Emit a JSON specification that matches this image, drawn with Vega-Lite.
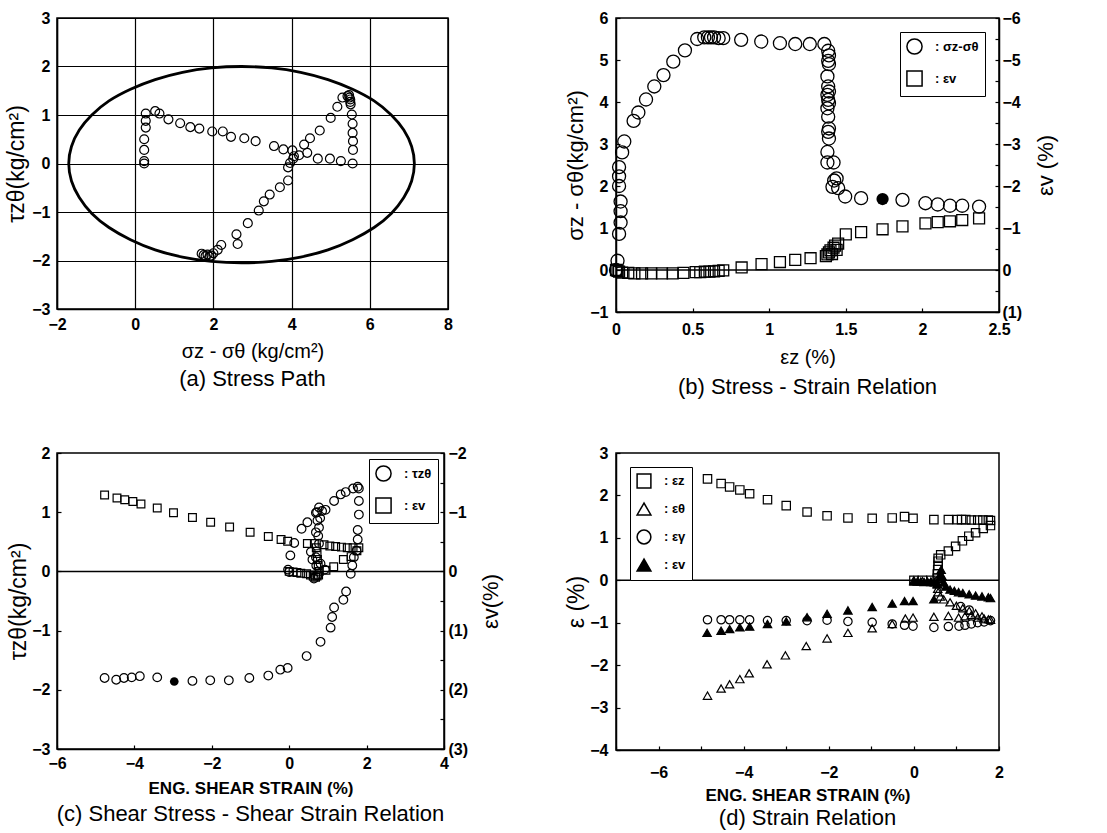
{
  "$schema": "https://vega.github.io/schema/vega-lite/v6.json",
  "background": "white",
  "padding": {"left": 5, "top": 9, "right": 5, "bottom": 5},
  "config": {
    "font": "Liberation Sans",
    "view": {"stroke": "black", "strokeWidth": 1.5},
    "axis": {
      "labelFont": "Liberation Sans", "labelFontWeight": "bold", "labelFontSize": 16, "labelColor": "black",
      "titleFont": "Liberation Sans", "titleFontWeight": "normal", "titleFontSize": 23, "titleColor": "black",
      "domainColor": "black", "domainWidth": 1.5, "tickColor": "black", "tickWidth": 1.2,
      "grid": false, "labelFlush": false, "labelOverlap": false, "labelBound": false
    },
    "title": {"font": "Liberation Sans", "fontSize": 22, "fontWeight": "normal", "color": "black", "orient": "bottom", "anchor": "middle"},
    "legend": {
      "strokeColor": "black", "fillColor": "white", "padding": 6, "title": null,
      "labelFont": "Liberation Sans", "labelFontSize": 13, "labelFontWeight": "bold", "labelColor": "black",
      "labelOffset": 12, "rowPadding": 9, "symbolStrokeColor": "black", "symbolStrokeWidth": 1.5, "symbolSize": 230
    }
  },
  "datasets": {
    "a_ellipse": [
      {"i":0,"x":7.14,"y":0},{"i":1,"x":7.07,"y":0.35},{"i":2,"x":6.87,"y":0.69},{"i":3,"x":6.55,"y":1.0},
      {"i":4,"x":6.11,"y":1.29},{"i":5,"x":5.56,"y":1.53},{"i":6,"x":4.93,"y":1.73},{"i":7,"x":4.23,"y":1.88},
      {"i":8,"x":3.49,"y":1.97},{"i":9,"x":2.72,"y":2.0},{"i":10,"x":1.95,"y":1.97},{"i":11,"x":1.21,"y":1.88},
      {"i":12,"x":0.51,"y":1.73},{"i":13,"x":-0.12,"y":1.53},{"i":14,"x":-0.67,"y":1.29},{"i":15,"x":-1.11,"y":1.0},
      {"i":16,"x":-1.43,"y":0.69},{"i":17,"x":-1.63,"y":0.35},{"i":18,"x":-1.7,"y":0},{"i":19,"x":-1.63,"y":-0.36},
      {"i":20,"x":-1.43,"y":-0.7},{"i":21,"x":-1.11,"y":-1.03},{"i":22,"x":-0.67,"y":-1.32},{"i":23,"x":-0.12,"y":-1.57},
      {"i":24,"x":0.51,"y":-1.78},{"i":25,"x":1.21,"y":-1.93},{"i":26,"x":1.95,"y":-2.02},{"i":27,"x":2.72,"y":-2.05},
      {"i":28,"x":3.49,"y":-2.02},{"i":29,"x":4.23,"y":-1.93},{"i":30,"x":4.93,"y":-1.78},{"i":31,"x":5.56,"y":-1.57},
      {"i":32,"x":6.11,"y":-1.32},{"i":33,"x":6.55,"y":-1.03},{"i":34,"x":6.87,"y":-0.7},{"i":35,"x":7.07,"y":-0.36}
    ],
    "a_pts": [
      {"x":0.23,"y":0.0},{"x":0.23,"y":0.05},{"x":0.23,"y":0.28},{"x":0.23,"y":0.5},{"x":0.27,"y":0.74},{"x":0.27,"y":0.88},
      {"x":0.27,"y":1.03},{"x":0.51,"y":1.08},{"x":0.62,"y":1.03},{"x":0.85,"y":0.91},{"x":1.15,"y":0.83},{"x":1.41,"y":0.75},
      {"x":1.64,"y":0.72},{"x":1.97,"y":0.66},{"x":2.24,"y":0.66},{"x":2.45,"y":0.55},{"x":2.79,"y":0.52},{"x":3.08,"y":0.46},
      {"x":3.55,"y":0.36},{"x":3.79,"y":0.29},{"x":4.02,"y":0.27},{"x":4.06,"y":0.15},{"x":4.19,"y":0.17},{"x":4.4,"y":0.22},
      {"x":4.67,"y":0.1},{"x":4.98,"y":0.1},{"x":5.26,"y":0.05},{"x":5.56,"y":0.0},{"x":5.57,"y":0.28},{"x":5.57,"y":0.46},
      {"x":5.56,"y":0.63},{"x":5.56,"y":0.82},{"x":5.54,"y":1.01},{"x":5.51,"y":1.22},{"x":5.5,"y":1.32},{"x":5.47,"y":1.41},
      {"x":5.5,"y":1.27},{"x":5.48,"y":1.36},
      {"x":1.7,"y":-1.86},{"x":1.75,"y":-1.89},{"x":1.8,"y":-1.91},{"x":1.85,"y":-1.88},{"x":1.9,"y":-1.92},{"x":1.95,"y":-1.9},
      {"x":2.0,"y":-1.85},{"x":2.11,"y":-1.78},{"x":2.2,"y":-1.68},{"x":2.59,"y":-1.46},{"x":2.62,"y":-1.66},{"x":2.88,"y":-1.23},
      {"x":3.16,"y":-0.97},{"x":3.29,"y":-0.78},{"x":3.44,"y":-0.64},{"x":3.7,"y":-0.49},{"x":3.91,"y":-0.35},{"x":3.91,"y":-0.08},
      {"x":3.96,"y":0.01},{"x":4.04,"y":0.1},{"x":4.32,"y":0.39},{"x":4.47,"y":0.52},{"x":4.72,"y":0.68},{"x":5.0,"y":0.94},
      {"x":5.17,"y":1.17},{"x":5.3,"y":1.36},{"x":5.43,"y":1.39}
    ],
    "b_sig": [
      {"ex":0.0,"q":0.0},{"ex":0.01,"q":0.22},{"ex":0.02,"q":0.86},{"ex":0.03,"q":1.13},{"ex":0.03,"q":1.4},{"ex":0.03,"q":1.63},
      {"ex":0.02,"q":2.0},{"ex":0.02,"q":2.23},{"ex":0.02,"q":2.45},{"ex":0.04,"q":2.8},{"ex":0.054,"q":3.06},{"ex":0.115,"q":3.55},
      {"ex":0.146,"q":3.75},{"ex":0.196,"q":4.06},{"ex":0.25,"q":4.37},{"ex":0.31,"q":4.64},{"ex":0.374,"q":4.96},{"ex":0.45,"q":5.23},
      {"ex":0.53,"q":5.5},{"ex":0.576,"q":5.54},{"ex":0.6,"q":5.54},{"ex":0.62,"q":5.54},{"ex":0.64,"q":5.54},{"ex":0.67,"q":5.52},
      {"ex":0.7,"q":5.52},{"ex":0.817,"q":5.48},{"ex":0.948,"q":5.44},{"ex":1.07,"q":5.4},{"ex":1.17,"q":5.38},{"ex":1.265,"q":5.38},
      {"ex":1.36,"q":5.38},{"ex":1.385,"q":5.22},{"ex":1.39,"q":5.11},{"ex":1.385,"q":4.98},{"ex":1.39,"q":4.9},{"ex":1.38,"q":4.61},
      {"ex":1.385,"q":4.37},{"ex":1.39,"q":4.25},{"ex":1.38,"q":4.17},{"ex":1.385,"q":4.05},{"ex":1.39,"q":3.97},{"ex":1.38,"q":3.85},
      {"ex":1.385,"q":3.65},{"ex":1.39,"q":3.37},{"ex":1.385,"q":3.29},{"ex":1.39,"q":3.13},{"ex":1.38,"q":2.81},{"ex":1.38,"q":2.56},
      {"ex":1.42,"q":2.56},{"ex":1.424,"q":2.13},{"ex":1.44,"q":2.18},{"ex":1.413,"q":1.98},{"ex":1.45,"q":1.95},{"ex":1.496,"q":1.75},
      {"ex":1.6,"q":1.71},{"ex":1.87,"q":1.67},{"ex":2.02,"q":1.59},{"ex":2.1,"q":1.56},{"ex":2.18,"q":1.53},{"ex":2.26,"q":1.53},
      {"ex":2.37,"q":1.51}
    ],
    "b_mark": [{"ex":1.74,"q":1.69}],
    "b_ev": [
      {"ex":0.0,"ev":0.0},{"ex":0.01,"ev":0.02},{"ex":0.02,"ev":0.04},{"ex":0.04,"ev":0.06},{"ex":0.08,"ev":0.07},{"ex":0.12,"ev":0.08},
      {"ex":0.17,"ev":0.08},{"ex":0.23,"ev":0.08},{"ex":0.3,"ev":0.08},{"ex":0.37,"ev":0.08},{"ex":0.44,"ev":0.07},{"ex":0.52,"ev":0.05},
      {"ex":0.55,"ev":0.05},{"ex":0.58,"ev":0.04},{"ex":0.61,"ev":0.04},{"ex":0.64,"ev":0.03},{"ex":0.67,"ev":0.02},{"ex":0.7,"ev":0.01},
      {"ex":0.82,"ev":-0.06},{"ex":0.95,"ev":-0.14},{"ex":1.07,"ev":-0.19},{"ex":1.17,"ev":-0.24},{"ex":1.27,"ev":-0.28},{"ex":1.37,"ev":-0.33},
      {"ex":1.38,"ev":-0.37},{"ex":1.39,"ev":-0.42},{"ex":1.4,"ev":-0.47},{"ex":1.41,"ev":-0.38},{"ex":1.42,"ev":-0.53},{"ex":1.43,"ev":-0.58},
      {"ex":1.44,"ev":-0.48},{"ex":1.45,"ev":-0.63},{"ex":1.5,"ev":-0.85},{"ex":1.6,"ev":-0.9},{"ex":1.74,"ev":-0.97},{"ex":1.87,"ev":-1.04},
      {"ex":2.02,"ev":-1.11},{"ex":2.1,"ev":-1.14},{"ex":2.18,"ev":-1.16},{"ex":2.26,"ev":-1.19},{"ex":2.37,"ev":-1.23}
    ],
    "c_tau": [
      {"g":-4.77,"t":-1.8},{"g":-4.47,"t":-1.83},{"g":-4.27,"t":-1.8},{"g":-4.07,"t":-1.79},{"g":-3.86,"t":-1.77},{"g":-3.41,"t":-1.79},
      {"g":-2.5,"t":-1.85},{"g":-2.04,"t":-1.84},{"g":-1.56,"t":-1.84},{"g":-1.03,"t":-1.8},{"g":-0.54,"t":-1.76},{"g":-0.23,"t":-1.66},
      {"g":-0.04,"t":-1.63},{"g":0.45,"t":-1.43},{"g":0.81,"t":-1.19},{"g":1.07,"t":-0.95},{"g":1.11,"t":-0.77},{"g":1.16,"t":-0.61},
      {"g":1.4,"t":-0.48},{"g":1.47,"t":-0.34},{"g":1.59,"t":-0.04},{"g":1.63,"t":0.1},{"g":1.67,"t":0.24},{"g":1.74,"t":0.35},
      {"g":1.77,"t":0.54},{"g":1.77,"t":0.7},{"g":1.8,"t":0.96},{"g":1.8,"t":1.19},{"g":1.77,"t":1.43},{"g":1.8,"t":1.4},
      {"g":1.65,"t":1.4},{"g":1.46,"t":1.34},{"g":1.33,"t":1.3},{"g":1.16,"t":1.19},{"g":0.94,"t":1.04},{"g":0.77,"t":1.08},
      {"g":0.69,"t":0.99},{"g":0.73,"t":0.86},{"g":0.77,"t":0.74},{"g":0.69,"t":0.66},{"g":0.47,"t":0.83},{"g":0.32,"t":0.72},
      {"g":0.13,"t":0.48},{"g":0.03,"t":0.27},{"g":-0.03,"t":0.03},{"g":0.0,"t":-0.01},{"g":0.56,"t":0.33},{"g":0.69,"t":0.24},
      {"g":0.77,"t":0.47},{"g":0.81,"t":0.13},{"g":0.73,"t":-0.07},{"g":0.64,"t":-0.12},{"g":0.92,"t":0.03},{"g":0.75,"t":0.6},
      {"g":0.8,"t":0.9},{"g":0.72,"t":1.0},{"g":0.85,"t":1.02},{"g":0.6,"t":0.2},{"g":0.7,"t":0.1}
    ],
    "c_mark": [{"g":-2.97,"t":-1.86}],
    "c_ev": [
      {"g":-4.77,"ev":-1.29},{"g":-4.45,"ev":-1.24},{"g":-4.25,"ev":-1.21},{"g":-4.04,"ev":-1.18},{"g":-3.83,"ev":-1.14},{"g":-3.41,"ev":-1.07},
      {"g":-2.99,"ev":-0.99},{"g":-2.5,"ev":-0.91},{"g":-2.03,"ev":-0.83},{"g":-1.54,"ev":-0.75},{"g":-1.01,"ev":-0.66},{"g":-0.54,"ev":-0.59},
      {"g":-0.21,"ev":-0.54},{"g":-0.04,"ev":-0.51},
      {"g":0.0,"ev":0.0},{"g":0.1,"ev":0.01},{"g":0.2,"ev":0.02},{"g":0.3,"ev":0.03},{"g":0.45,"ev":0.04},{"g":0.55,"ev":0.06},
      {"g":0.62,"ev":0.08},{"g":0.68,"ev":0.1},{"g":0.72,"ev":0.08},{"g":0.76,"ev":0.06},{"g":0.78,"ev":0.0},{"g":0.75,"ev":-0.1},
      {"g":0.73,"ev":-0.2},{"g":0.72,"ev":-0.3},{"g":0.7,"ev":-0.4},{"g":0.65,"ev":-0.47},{"g":0.47,"ev":-0.47},{"g":0.9,"ev":-0.45},
      {"g":1.05,"ev":-0.43},{"g":1.2,"ev":-0.42},{"g":1.35,"ev":-0.41},{"g":1.5,"ev":-0.4},{"g":1.65,"ev":-0.4},{"g":1.8,"ev":-0.4},
      {"g":1.75,"ev":-0.35},{"g":1.6,"ev":-0.25},{"g":1.4,"ev":-0.2},{"g":1.15,"ev":-0.08},{"g":0.95,"ev":-0.02}
    ],
    "d_pts": [
      {"s":": εz","x":-4.85,"y":2.39},{"s":": εz","x":-4.53,"y":2.28},{"s":": εz","x":-4.33,"y":2.2},{"s":": εz","x":-4.09,"y":2.13},
      {"s":": εz","x":-3.86,"y":2.04},{"s":": εz","x":-3.44,"y":1.9},{"s":": εz","x":-3.0,"y":1.76},{"s":": εz","x":-2.51,"y":1.61},
      {"s":": εz","x":-2.04,"y":1.52},{"s":": εz","x":-1.55,"y":1.47},{"s":": εz","x":-0.98,"y":1.46},{"s":": εz","x":-0.51,"y":1.47},
      {"s":": εz","x":-0.22,"y":1.5},{"s":": εz","x":-0.02,"y":1.46},{"s":": εz","x":0.47,"y":1.43},{"s":": εz","x":0.81,"y":1.43},
      {"s":": εz","x":1.02,"y":1.43},{"s":": εz","x":1.12,"y":1.43},{"s":": εz","x":1.22,"y":1.43},{"s":": εz","x":1.35,"y":1.42},
      {"s":": εz","x":1.5,"y":1.42},{"s":": εz","x":1.62,"y":1.42},{"s":": εz","x":1.75,"y":1.42},{"s":": εz","x":1.8,"y":1.41},
      {"s":": εz","x":0.57,"y":0.52},{"s":": εz","x":0.63,"y":0.6},{"s":": εz","x":0.81,"y":0.69},{"s":": εz","x":0.98,"y":0.8},
      {"s":": εz","x":1.14,"y":0.93},{"s":": εz","x":1.29,"y":1.04},{"s":": εz","x":1.45,"y":1.12},{"s":": εz","x":1.63,"y":1.22},
      {"s":": εz","x":1.8,"y":1.29},{"s":": εz","x":0.55,"y":0.05},{"s":": εz","x":0.55,"y":0.15},{"s":": εz","x":0.56,"y":0.25},
      {"s":": εz","x":0.57,"y":0.35},{"s":": εz","x":0.57,"y":0.45},{"s":": εz","x":0.0,"y":0.0},{"s":": εz","x":0.2,"y":0.0},
      {"s":": εz","x":0.4,"y":0.0},
      {"s":": εθ","x":-4.85,"y":-2.72},{"s":": εθ","x":-4.53,"y":-2.55},{"s":": εθ","x":-4.33,"y":-2.45},{"s":": εθ","x":-4.09,"y":-2.33},
      {"s":": εθ","x":-3.87,"y":-2.19},{"s":": εθ","x":-3.45,"y":-1.98},{"s":": εθ","x":-3.02,"y":-1.77},{"s":": εθ","x":-2.53,"y":-1.55},
      {"s":": εθ","x":-2.04,"y":-1.37},{"s":": εθ","x":-1.55,"y":-1.24},{"s":": εθ","x":-0.98,"y":-1.13},{"s":": εθ","x":-0.51,"y":-1.03},
      {"s":": εθ","x":-0.2,"y":-0.9},{"s":": εθ","x":-0.02,"y":-0.88},{"s":": εθ","x":0.47,"y":-0.86},{"s":": εθ","x":0.81,"y":-0.84},
      {"s":": εθ","x":1.05,"y":-0.88},{"s":": εθ","x":1.2,"y":-0.85},{"s":": εθ","x":1.35,"y":-0.82},{"s":": εθ","x":1.5,"y":-0.88},
      {"s":": εθ","x":1.65,"y":-0.9},{"s":": εθ","x":1.8,"y":-0.93},{"s":": εθ","x":0.57,"y":-0.28},{"s":": εθ","x":0.62,"y":-0.38},
      {"s":": εθ","x":0.7,"y":-0.45},{"s":": εθ","x":0.85,"y":-0.52},{"s":": εθ","x":1.0,"y":-0.6},{"s":": εθ","x":1.15,"y":-0.66},
      {"s":": εθ","x":1.3,"y":-0.72},{"s":": εθ","x":1.45,"y":-0.78},{"s":": εθ","x":1.6,"y":-0.85},{"s":": εθ","x":1.75,"y":-0.92},
      {"s":": εθ","x":0.0,"y":0.0},{"s":": εθ","x":0.2,"y":-0.02},{"s":": εθ","x":0.4,"y":-0.03},{"s":": εθ","x":0.55,"y":-0.1},
      {"s":": εθ","x":0.56,"y":-0.2},
      {"s":": εγ","x":-4.85,"y":-0.93},{"s":": εγ","x":-4.53,"y":-0.93},{"s":": εγ","x":-4.33,"y":-0.93},{"s":": εγ","x":-4.09,"y":-0.93},
      {"s":": εγ","x":-3.86,"y":-0.93},{"s":": εγ","x":-3.44,"y":-0.95},{"s":": εγ","x":-3.0,"y":-0.95},{"s":": εγ","x":-2.51,"y":-0.95},
      {"s":": εγ","x":-2.04,"y":-0.94},{"s":": εγ","x":-1.55,"y":-0.97},{"s":": εγ","x":-0.98,"y":-0.99},{"s":": εγ","x":-0.51,"y":-1.03},
      {"s":": εγ","x":-0.22,"y":-1.06},{"s":": εγ","x":-0.02,"y":-1.08},{"s":": εγ","x":0.47,"y":-1.11},{"s":": εγ","x":0.81,"y":-1.09},
      {"s":": εγ","x":1.06,"y":-1.08},{"s":": εγ","x":1.2,"y":-1.06},{"s":": εγ","x":1.35,"y":-1.03},{"s":": εγ","x":1.5,"y":-1.0},
      {"s":": εγ","x":1.65,"y":-0.98},{"s":": εγ","x":1.8,"y":-0.95},{"s":": εγ","x":1.1,"y":-0.62},{"s":": εγ","x":1.3,"y":-0.7},
      {"s":": εv","x":-4.86,"y":-1.24},{"s":": εv","x":-4.53,"y":-1.19},{"s":": εv","x":-4.33,"y":-1.15},{"s":": εv","x":-4.09,"y":-1.11},
      {"s":": εv","x":-3.86,"y":-1.09},{"s":": εv","x":-3.44,"y":-1.03},{"s":": εv","x":-3.0,"y":-0.97},{"s":": εv","x":-2.51,"y":-0.87},
      {"s":": εv","x":-2.04,"y":-0.79},{"s":": εv","x":-1.55,"y":-0.71},{"s":": εv","x":-0.98,"y":-0.63},{"s":": εv","x":-0.51,"y":-0.55},
      {"s":": εv","x":-0.22,"y":-0.49},{"s":": εv","x":-0.02,"y":-0.49},{"s":": εv","x":0.47,"y":-0.45},
      {"s":": εv","x":0.0,"y":-0.03},{"s":": εv","x":0.08,"y":-0.03},{"s":": εv","x":0.16,"y":-0.03},{"s":": εv","x":0.24,"y":-0.04},
      {"s":": εv","x":0.32,"y":-0.03},{"s":": εv","x":0.4,"y":-0.04},{"s":": εv","x":0.48,"y":-0.05},{"s":": εv","x":0.55,"y":-0.08},
      {"s":": εv","x":0.6,"y":0.05},{"s":": εv","x":0.62,"y":0.15},{"s":": εv","x":0.64,"y":0.25},{"s":": εv","x":0.66,"y":0.1},
      {"s":": εv","x":0.7,"y":-0.05},{"s":": εv","x":0.75,"y":-0.15},{"s":": εv","x":0.85,"y":-0.22},{"s":": εv","x":0.95,"y":-0.25},
      {"s":": εv","x":1.05,"y":-0.28},{"s":": εv","x":1.15,"y":-0.3},{"s":": εv","x":1.3,"y":-0.33},{"s":": εv","x":1.45,"y":-0.36},
      {"s":": εv","x":1.6,"y":-0.38},{"s":": εv","x":1.75,"y":-0.4},{"s":": εv","x":1.8,"y":-0.42}
    ]
  },
  "columns": 2,
  "bounds": "flush",
  "spacing": {"column": 168, "row": 141},
  "resolve": {"scale": {"shape": "independent", "fill": "independent", "stroke": "independent"}},
  "concat": [
    {
      "width": 391, "height": 291,
      "title": {"text": "(a) Stress Path", "offset": 8},
      "layer": [
        {
          "data": {"name": "a_ellipse"},
          "mark": {"type": "line", "color": "black", "strokeWidth": 2.8, "interpolate": "cardinal-closed"},
          "encoding": {
            "x": {"field": "x", "type": "quantitative", "scale": {"domain": [-2, 8], "nice": false, "zero": false},
              "axis": {"title": "σz - σθ (kg/cm²)", "titleFontSize": 20, "values": [-2, 0, 2, 4, 6, 8], "grid": true, "gridColor": "black", "gridOpacity": 1, "gridWidth": 1.2, "ticks": false, "labelPadding": 7, "titlePadding": 9}},
            "y": {"field": "y", "type": "quantitative", "scale": {"domain": [-3, 3], "nice": false, "zero": false},
              "axis": {"title": "τzθ(kg/cm²)", "values": [-3, -2, -1, 0, 1, 2, 3], "grid": true, "gridColor": "black", "gridOpacity": 1, "gridWidth": 1.2, "ticks": false, "labelPadding": 7, "titlePadding": 3}},
            "order": {"field": "i", "type": "quantitative"}
          }
        },
        {
          "data": {"name": "a_pts"},
          "mark": {"type": "point", "shape": "circle", "filled": false, "color": "black", "size": 80, "strokeWidth": 1.2, "opacity": 1},
          "encoding": {
            "x": {"field": "x", "type": "quantitative"},
            "y": {"field": "y", "type": "quantitative"}
          }
        }
      ]
    },
    {
      "width": 383, "height": 294,
      "title": {"text": "(b) Stress - Strain Relation", "offset": 10},
      "layer": [
        {
          "layer": [
            {
              "data": {"name": "b_sig"},
              "mark": {"type": "point", "filled": false, "color": "black", "size": 170, "strokeWidth": 1.3, "opacity": 1},
              "encoding": {
                "x": {"field": "ex", "type": "quantitative", "scale": {"domain": [0, 2.5], "nice": false, "zero": false},
                  "axis": {"title": "εz (%)", "titleFontSize": 20, "values": [0, 0.25, 0.5, 0.75, 1, 1.25, 1.5, 1.75, 2, 2.25, 2.5], "labelExpr": "datum.value % 0.5 == 0 ? format(datum.value, '~g') : ''", "tickSize": -4, "labelPadding": 13, "titlePadding": 10}},
                "y": {"field": "q", "type": "quantitative", "scale": {"domain": [-1, 6], "nice": false, "zero": false},
                  "axis": {"title": "σz - σθ(kg/cm²)", "titleFontSize": 22, "orient": "left", "values": [-1, -0.5, 0, 0.5, 1, 1.5, 2, 2.5, 3, 3.5, 4, 4.5, 5, 5.5, 6], "labelExpr": "datum.value % 1 == 0 ? format(datum.value, '~g') : ''", "tickSize": -4, "labelPadding": 12, "titlePadding": 2}},
                "shape": {"datum": ": σz-σθ", "scale": {"domain": [": σz-σθ", ": εv"], "range": ["circle", "square"]},
                  "legend": {"orient": "top-right", "offset": 14}}
              }
            },
            {
              "data": {"name": "b_mark"},
              "mark": {"type": "point", "shape": "circle", "filled": true, "color": "black", "size": 150, "opacity": 1},
              "encoding": {
                "x": {"field": "ex", "type": "quantitative"},
                "y": {"field": "q", "type": "quantitative"}
              }
            },
            {
              "data": {"values": [{"y": 0}]},
              "mark": {"type": "rule", "color": "black", "strokeWidth": 1.5},
              "encoding": {"y": {"field": "y", "type": "quantitative"}}
            }
          ]
        },
        {
          "data": {"name": "b_ev"},
          "mark": {"type": "point", "filled": false, "color": "black", "size": 120, "strokeWidth": 1.3, "opacity": 1},
          "encoding": {
            "x": {"field": "ex", "type": "quantitative"},
            "y": {"field": "ev", "type": "quantitative", "scale": {"domain": [-6, 1], "reverse": true, "nice": false, "zero": false},
              "axis": {"title": "εv (%)", "titleFontSize": 22, "orient": "right", "titleAngle": -90, "titleBaseline": "top", "values": [-6, -5.5, -5, -4.5, -4, -3.5, -3, -2.5, -2, -1.5, -1, -0.5, 0, 0.5, 1], "labelExpr": "datum.value % 1 != 0 ? '' : (datum.value > 0 ? '(' + format(datum.value, '~g') + ')' : format(datum.value, '~g'))", "tickSize": -4, "labelPadding": 7, "titlePadding": 14}},
            "shape": {"datum": ": εv"}
          }
        }
      ],
      "resolve": {"scale": {"y": "independent"}}
    },
    {
      "width": 387, "height": 296,
      "title": {"text": "(c) Shear Stress - Shear Strain Relation", "offset": 8},
      "layer": [
        {
          "layer": [
            {
              "data": {"name": "c_tau"},
              "mark": {"type": "point", "filled": false, "color": "black", "size": 75, "strokeWidth": 1.2, "opacity": 1},
              "encoding": {
                "x": {"field": "g", "type": "quantitative", "scale": {"domain": [-6, 4], "nice": false, "zero": false},
                  "axis": {"title": "ENG. SHEAR STRAIN (%)", "titleFontWeight": "bold", "titleFontSize": 17, "values": [-6, -5, -4, -3, -2, -1, 0, 1, 2, 3, 4], "labelExpr": "datum.value % 2 == 0 ? format(datum.value, '~g') : ''", "tickSize": -4, "labelPadding": 10, "titlePadding": 9}},
                "y": {"field": "t", "type": "quantitative", "scale": {"domain": [-3, 2], "nice": false, "zero": false},
                  "axis": {"title": "τzθ(kg/cm²)", "orient": "left", "values": [-3, -2.5, -2, -1.5, -1, -0.5, 0, 0.5, 1, 1.5, 2], "labelExpr": "datum.value % 1 == 0 ? format(datum.value, '~g') : ''", "tickSize": -4, "labelPadding": 11, "titlePadding": 1}},
                "shape": {"datum": ": τzθ", "scale": {"domain": [": τzθ", ": εv"], "range": ["circle", "square"]},
                  "legend": {"orient": "top-right", "offset": 6}}
              }
            },
            {
              "data": {"name": "c_mark"},
              "mark": {"type": "point", "shape": "circle", "filled": true, "color": "black", "size": 75, "opacity": 1},
              "encoding": {
                "x": {"field": "g", "type": "quantitative"},
                "y": {"field": "t", "type": "quantitative"}
              }
            },
            {
              "data": {"values": [{"y": 0}]},
              "mark": {"type": "rule", "color": "black", "strokeWidth": 1.5},
              "encoding": {"y": {"field": "y", "type": "quantitative"}}
            }
          ]
        },
        {
          "data": {"name": "c_ev"},
          "mark": {"type": "point", "filled": false, "color": "black", "size": 60, "strokeWidth": 1.2, "opacity": 1},
          "encoding": {
            "x": {"field": "g", "type": "quantitative"},
            "y": {"field": "ev", "type": "quantitative", "scale": {"domain": [-2, 3], "reverse": true, "nice": false, "zero": false},
              "axis": {"title": "εv(%)", "titleFontSize": 22, "orient": "right", "titleAngle": -90, "titleBaseline": "top", "values": [-2, -1.5, -1, -0.5, 0, 0.5, 1, 1.5, 2, 2.5, 3], "labelExpr": "datum.value % 1 != 0 ? '' : (datum.value > 0 ? '(' + format(datum.value, '~g') + ')' : format(datum.value, '~g'))", "tickSize": -4, "labelPadding": 8, "titlePadding": 13}},
            "shape": {"datum": ": εv"}
          }
        }
      ],
      "resolve": {"scale": {"y": "independent"}}
    },
    {
      "width": 383, "height": 297,
      "title": {"text": "(d) Strain Relation", "offset": 5},
      "layer": [
        {
          "data": {"values": [{"y": 0}]},
          "mark": {"type": "rule", "color": "black", "strokeWidth": 1.5},
          "encoding": {"y": {"field": "y", "type": "quantitative"}}
        },
        {
          "data": {"name": "d_pts"},
          "mark": {"type": "point", "strokeWidth": 1.2, "size": 70, "opacity": 1},
          "encoding": {
            "x": {"field": "x", "type": "quantitative", "scale": {"domain": [-7, 2], "nice": false, "zero": false},
              "axis": {"title": "ENG. SHEAR STRAIN (%)", "titleFontWeight": "bold", "titleFontSize": 17, "values": [-7, -6, -5, -4, -3, -2, -1, 0, 1, 2], "labelExpr": "datum.value % 2 == 0 ? format(datum.value, '~g') : ''", "tickSize": -4, "labelPadding": 18, "titlePadding": 7}},
            "y": {"field": "y", "type": "quantitative", "scale": {"domain": [-4, 3], "nice": false, "zero": false},
              "axis": {"title": "ε (%)", "values": [-4, -3.5, -3, -2.5, -2, -1.5, -1, -0.5, 0, 0.5, 1, 1.5, 2, 2.5, 3], "labelExpr": "datum.value % 1 == 0 ? format(datum.value, '~g') : ''", "tickSize": -4, "labelPadding": 12, "titlePadding": 1}},
            "shape": {"field": "s", "type": "nominal", "scale": {"domain": [": εz", ": εθ", ": εγ", ": εv"], "range": ["square", "triangle-up", "circle", "triangle-up"]},
              "legend": {"orient": "top-left", "offset": 14, "symbolSize": 190}},
            "fill": {"field": "s", "type": "nominal", "scale": {"domain": [": εz", ": εθ", ": εγ", ": εv"], "range": ["transparent", "transparent", "transparent", "black"]},
              "legend": {"orient": "top-left", "offset": 14, "symbolSize": 190}},
            "stroke": {"field": "s", "type": "nominal", "scale": {"domain": [": εz", ": εθ", ": εγ", ": εv"], "range": ["black", "black", "black", "black"]},
              "legend": {"orient": "top-left", "offset": 14, "symbolSize": 190}}
          }
        }
      ]
    }
  ]
}
